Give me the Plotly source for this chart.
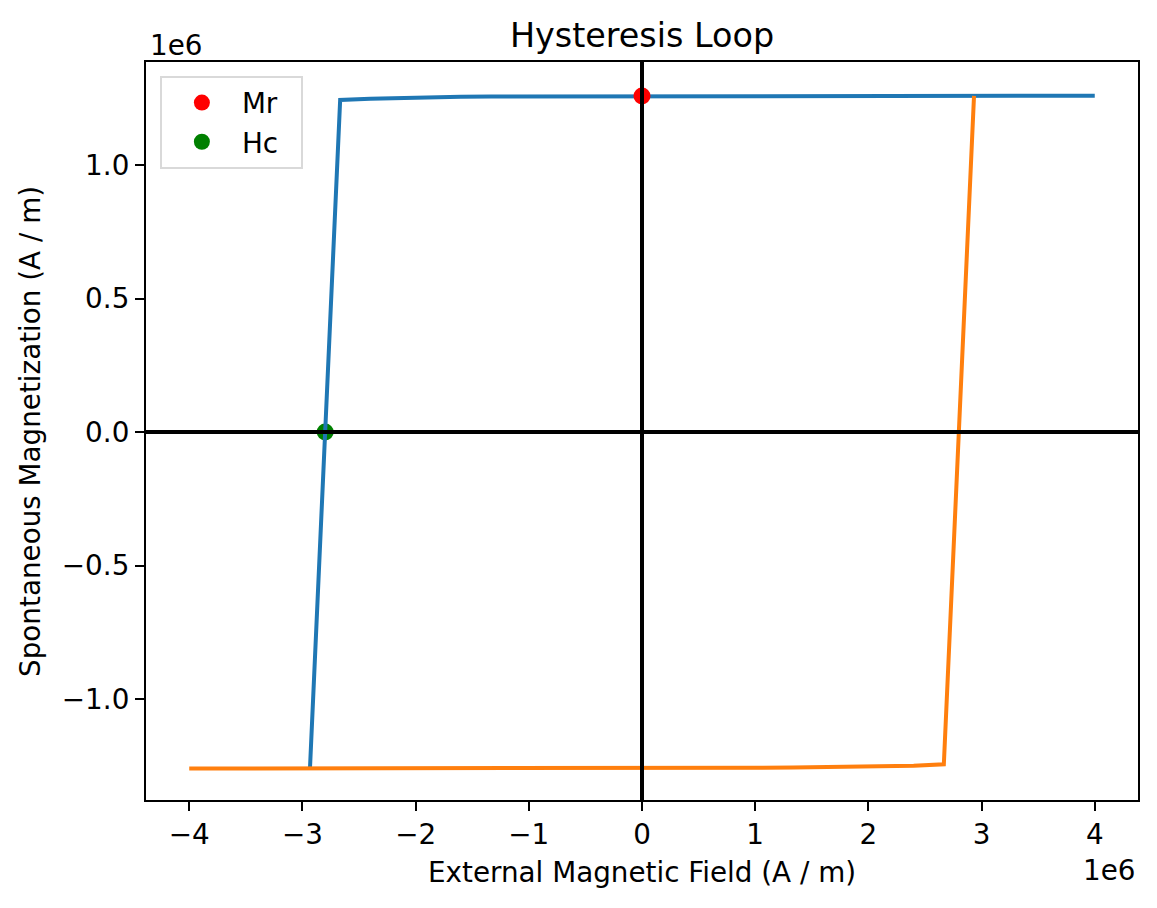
import plotly.graph_objects as go

# field grid (A/m) and magnetization branches (A/m)
h_down = [4000000, 3733333, 3466667, 3200000, 2933333, 2666667, 2400000, 2133333,
          1866667, 1600000, 1333333, 1066667, 800000, 533333, 266667, 0,
          -266667, -533333, -800000, -1066667, -1333333, -1600000, -1866667,
          -2133333, -2400000, -2666667, -2933333]
m_down = [1260000, 1260000, 1260000, 1259900, 1259900, 1259900, 1259800, 1259800,
          1259700, 1259700, 1259600, 1259500, 1259400, 1259200, 1259000, 1258800,
          1258500, 1258200, 1257800, 1257300, 1256600, 1255700, 1254300,
          1252200, 1248700, 1244000, -1259000]

h_up = [-4000000, -3733333, -3466667, -3200000, -2933333, -2666667, -2400000, -2133333,
        -1866667, -1600000, -1333333, -1066667, -800000, -533333, -266667, 0,
        266667, 533333, 800000, 1066667, 1333333, 1600000, 1866667,
        2133333, 2400000, 2666667, 2933333]
m_up = [-1260000, -1260000, -1260000, -1259900, -1259900, -1259900, -1259800, -1259800,
        -1259700, -1259600, -1259500, -1259400, -1259200, -1259000, -1258800, -1258500,
        -1258200, -1257900, -1257400, -1256800, -1256200, -1255300, -1254000,
        -1252200, -1249500, -1244000, 1259000]

mr_point = (0, 1258800)
hc_point = (-2799000, 0)

x_ticks = [-4e6, -3e6, -2e6, -1e6, 0, 1e6, 2e6, 3e6, 4e6]
x_tick_text = ["\u22124", "\u22123", "\u22122", "\u22121", "0", "1", "2", "3", "4"]
y_ticks = [-1e6, -0.5e6, 0, 0.5e6, 1e6]
y_tick_text = ["\u22121.0", "\u22120.5", "0.0", "0.5", "1.0"]

font = "DejaVu Sans"
fs = 27.8

fig = go.Figure()
fig.add_trace(go.Scatter(x=[hc_point[0]], y=[hc_point[1]], mode="markers", name="Hc  ",
                         marker=dict(color="green", size=17), legendrank=2))
fig.add_trace(go.Scatter(x=h_down, y=m_down, mode="lines", showlegend=False,
                         line=dict(color="#1f77b4", width=4)))
fig.add_trace(go.Scatter(x=h_up, y=m_up, mode="lines", showlegend=False,
                         line=dict(color="#ff7f0e", width=4)))
fig.add_trace(go.Scatter(x=[mr_point[0]], y=[mr_point[1]], mode="markers", name="Mr  ",
                         marker=dict(color="red", size=17), legendrank=1))

# zero lines
fig.add_hline(y=0, line=dict(color="black", width=4), layer="above")
fig.add_vline(x=0, line=dict(color="black", width=4), layer="above")

axis_common = dict(showline=True, linecolor="black", linewidth=2.2, mirror=True,
                   ticks="outside", ticklen=9, tickwidth=2.2, tickcolor="black",
                   showgrid=False, zeroline=False,
                   tickfont=dict(family=font, size=fs, color="black"))

fig.update_xaxes(range=[-4.382e6, 4.382e6], tickvals=x_ticks, ticktext=x_tick_text,
                 **axis_common)
fig.update_yaxes(range=[-1.378e6, 1.386e6], tickvals=y_ticks, ticktext=y_tick_text,
                 **axis_common)

# page body has an 8px margin, so the figure is a bit smaller and shifted
fig.update_layout(
    width=1149, height=900,
    margin=dict(l=138, r=19, t=54, b=108),
    plot_bgcolor="white", paper_bgcolor="white",
    font=dict(family=font, size=fs, color="black"),
    title=dict(text="Hysteresis Loop", x=0.5, xref="paper", xanchor="center",
               y=1 - 27 / 900, yanchor="middle", font=dict(family=font, size=33.4)),
    legend=dict(x=0.014, y=0.981, xanchor="left", yanchor="top",
                bordercolor="#d9d9d9", borderwidth=2, bgcolor="white",
                itemwidth=70, font=dict(family=font, size=fs)),
    annotations=[
        dict(text="External Magnetic Field (A / m)", xref="paper", yref="paper",
             x=0.5, y=-0.0976, xanchor="center", yanchor="middle", showarrow=False),
        dict(text="Spontaneous Magnetization (A / m)", xref="paper", yref="paper",
             x=-0.117, y=0.5, xanchor="center", yanchor="middle", textangle=-90,
             showarrow=False),
        dict(text="1e6", xref="paper", yref="paper", x=0.002, y=1.023,
             xanchor="left", yanchor="middle", showarrow=False),
        dict(text="1e6", xref="paper", yref="paper", x=0.999, y=-0.095,
             xanchor="right", yanchor="middle", showarrow=False),
    ],
)

fig.write_html("out.html")
